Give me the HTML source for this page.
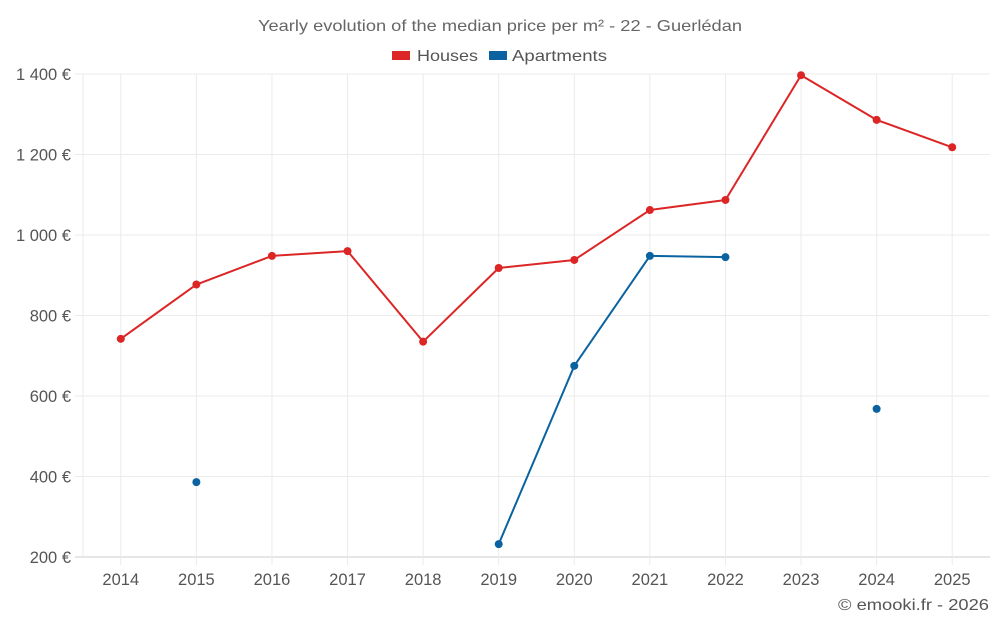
<!DOCTYPE html>
<html><head><meta charset="utf-8"><style>
body{margin:0;background:#fff;font-family:"Liberation Sans",sans-serif}
svg text{font-family:"Liberation Sans",sans-serif}
</style></head><body>
<svg id="chart" width="1000" height="625" xmlns="http://www.w3.org/2000/svg">
<text x="258" y="31" textLength="484" lengthAdjust="spacingAndGlyphs" font-size="16" fill="#666">Yearly evolution of the median price per m² - 22 - Guerlédan</text>
<g><rect x="392" y="51" width="18" height="9" fill="#dc2626"/><text x="417" y="61" textLength="61" lengthAdjust="spacingAndGlyphs" font-size="16" fill="#555">Houses</text></g>
<g><rect x="489" y="51" width="18" height="9" fill="#0a63a0"/><text x="512" y="61" textLength="95" lengthAdjust="spacingAndGlyphs" font-size="16" fill="#555">Apartments</text></g>
<g id="grid"></g><g id="axes"></g><g id="series"></g>
<text x="838" y="610" textLength="151" lengthAdjust="spacingAndGlyphs" font-size="16" fill="#555">© emooki.fr - 2026</text>
</svg>
<script>
const years=[2014,2015,2016,2017,2018,2019,2020,2021,2022,2023,2024,2025];
const houses=[742,877,948,960,735,918,938,1062,1087,1397,1286,1218];
const apartments=[null,386,null,null,null,232,675,948,945,null,568,null];
const yTicks=[200,400,600,800,1000,1200,1400];
const L=83,R=990,T=74,B=557,yMin=200,yMax=1400;
const NS="http://www.w3.org/2000/svg";
const bw=(R-L)/years.length;
const x=i=>L+bw*(i+0.5);
const y=v=>B-(v-yMin)/(yMax-yMin)*(B-T);
function mk(tag,attrs,parent){const e=document.createElementNS(NS,tag);for(const k in attrs)e.setAttribute(k,attrs[k]);document.getElementById(parent).appendChild(e);return e;}
yTicks.forEach(v=>{
  const g=mk('line',{x1:75,x2:R,y1:y(v),y2:y(v),stroke:v===yMin?'#ccc':'#ebebeb','stroke-width':1},'grid');
  
  
  const t=mk('text',{x:71,y:y(v)+6,'text-anchor':'end','font-size':16.5,fill:'#555'},'axes');
  t.textContent=(v>=1000?Math.floor(v/1000)+' '+String(v%1000).padStart(3,'0'):v)+' €';
  
  
});
const lg=mk('line',{x1:L,x2:L,y1:T,y2:B,stroke:'#ebebeb'},'grid');


years.forEach((yr,i)=>{
  const g=mk('line',{x1:x(i),x2:x(i),y1:T,y2:B+8,stroke:'#ebebeb'},'grid');
  
  
  const t=mk('text',{x:x(i),y:585,'text-anchor':'middle','font-size':16.5,fill:'#555'},'axes');
  t.textContent=yr;
  
  
});
function draw(data,color,name){
  for(let i=0;i<data.length-1;i++){
    if(data[i]!=null&&data[i+1]!=null){
      const l=mk('line',{x1:x(i),y1:y(data[i]),x2:x(i+1),y2:y(data[i+1]),stroke:color,'stroke-width':2},'series');
      
      
    }
  }
  data.forEach((v,i)=>{
    if(v==null)return;
    const c=mk('circle',{cx:x(i),cy:y(v),r:4,fill:color},'series');
    
    
  });
}
draw(houses,'#dc2626','houses');
draw(apartments,'#0a63a0','apartments');
</script>
</body></html>
